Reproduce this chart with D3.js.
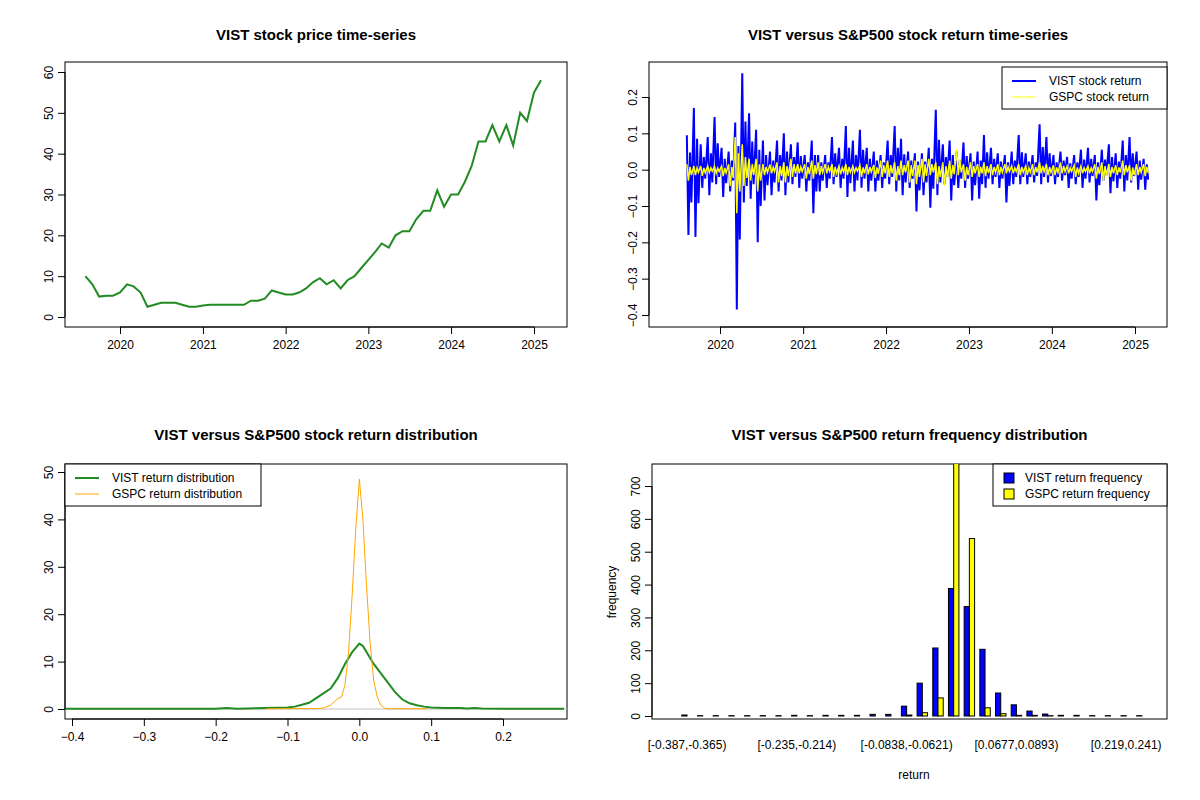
<!DOCTYPE html>
<html><head><meta charset="utf-8">
<script src="https://cdn.jsdelivr.net/npm/d3@7"></script>
<style>
body{margin:0;background:#fff;font-family:"Liberation Sans",Arial,sans-serif}
text{font-family:"Liberation Sans",Arial,sans-serif}
</style></head>
<body><svg id="c" width="1200" height="800"></svg>
<script>
// monthly closing price, Jul 2019 .. Feb 2025
const priceMonths = d3.timeMonths(new Date(2019,6,25), new Date(2025,1,26));
const priceValues = [10,8,5,5.2,5.2,6,
  8,7.5,6,2.5,3,3.5,3.5,3.5,3,2.5,2.5,2.8,
  3,3,3,3,3,3,4,4,4.5,6.5,6,5.5,
  5.5,6,7,8.5,9.5,8,9,7,9,10,12,14,
  16,18,17,20,21,21,24,26,26,31,27,30,
  30,33,37,43,43,47,43,47,42,50,48,55,
  58,52];

// monthly high / low of daily returns, Aug 2019 .. Feb 2025
const retMonths = d3.timeMonths(new Date(2019,7,1), new Date(2025,1,2));
const vistHi = [0.095,0.17,0.07,0.09,0.145,0.06,0.05,0.13,0.265,0.155,0.11,0.08,0.05,0.08,0.1,0.07,0.075,
  0.04,0.08,0.04,0.04,0.09,0.06,0.12,0.08,0.11,0.06,0.05,0.04,
  0.08,0.12,0.085,0.05,0.045,0.045,0.06,0.165,0.07,0.08,0.05,0.075,
  0.045,0.05,0.095,0.06,0.045,0.04,0.05,0.095,0.045,0.04,0.125,0.09,
  0.04,0.05,0.035,0.04,0.055,0.06,0.04,0.055,0.07,0.045,0.08,0.09,
  0.05,0.03];
const vistLo = [-0.18,-0.185,-0.05,-0.07,-0.04,-0.075,-0.06,-0.385,-0.09,-0.08,-0.2,-0.085,-0.07,-0.06,-0.07,-0.04,-0.05,
  -0.06,-0.12,-0.06,-0.05,-0.04,-0.05,-0.075,-0.06,-0.05,-0.06,-0.06,-0.05,
  -0.04,-0.06,-0.07,-0.05,-0.115,-0.07,-0.105,-0.07,-0.04,-0.085,-0.05,-0.05,
  -0.085,-0.08,-0.05,-0.04,-0.05,-0.09,-0.04,-0.04,-0.04,-0.035,-0.04,-0.035,
  -0.04,-0.03,-0.05,-0.04,-0.05,-0.035,-0.085,-0.03,-0.065,-0.05,-0.06,-0.035,
  -0.055,-0.055];
const gspcHi = [0.015,0.01,0.01,0.01,0.009,0.01,0.015,0.09,0.07,0.03,0.03,0.015,0.014,0.02,0.02,0.03,0.015,
  0.015,0.025,0.02,0.015,0.015,0.01,0.015,0.01,0.012,0.015,0.013,0.025,
  0.025,0.02,0.025,0.025,0.025,0.03,0.03,0.02,0.02,0.025,0.055,0.015,
  0.02,0.015,0.02,0.015,0.015,0.015,0.01,0.015,0.01,0.015,0.02,0.015,
  0.012,0.02,0.01,0.012,0.01,0.01,0.015,0.02,0.015,0.012,0.025,0.012,
  0.015,0.015];
const gspcLo = [-0.03,-0.015,-0.017,-0.008,-0.01,-0.018,-0.045,-0.12,-0.045,-0.03,-0.06,-0.015,-0.01,-0.035,-0.035,-0.02,-0.01,
  -0.025,-0.025,-0.015,-0.01,-0.02,-0.013,-0.015,-0.008,-0.02,-0.013,-0.023,-0.02,
  -0.02,-0.03,-0.015,-0.035,-0.04,-0.035,-0.015,-0.04,-0.045,-0.025,-0.015,-0.03,
  -0.02,-0.02,-0.018,-0.015,-0.015,-0.01,-0.01,-0.015,-0.015,-0.015,-0.01,-0.015,
  -0.015,-0.01,-0.01,-0.02,-0.01,-0.01,-0.025,-0.03,-0.02,-0.015,-0.015,-0.03,
  -0.015,-0.018];

// density estimates
const vistDensX = [-0.41,-0.2,-0.185,-0.17,-0.13,-0.1,-0.09,-0.08,-0.07,-0.06,-0.05,-0.04,-0.03,-0.02,-0.01,0,0.005,0.01,0.02,0.03,0.04,0.05,0.06,0.07,0.08,0.09,0.1,0.12,0.14,0.15,0.16,0.17,0.2,0.285];
const vistDensY = [0.05,0.05,0.2,0.05,0.2,0.3,0.5,0.9,1.3,2.3,3.3,4.3,6.5,9.5,12,13.8,13.3,12,9.5,7.5,5.5,3.5,2,1.2,0.8,0.5,0.3,0.2,0.2,0.1,0.2,0.1,0.05,0.05];
const gspcDensX = [-0.13,-0.06,-0.05,-0.04,-0.03,-0.025,-0.02,-0.015,-0.01,-0.005,0,0.005,0.01,0.015,0.02,0.025,0.03,0.035,0.04,0.095];
const gspcDensY = [0.05,0.1,0.2,0.8,2.2,2.5,5,12,24,38,48.5,40,26,14,6,2.5,0.8,0.2,0.05,0.05];

// histogram
const binBreaks = ["-0.387","-0.365","-0.343","-0.322","-0.3","-0.278","-0.257","-0.235","-0.214","-0.192","-0.17","-0.149","-0.127","-0.106","-0.0838","-0.0621","-0.0405","-0.0188","0.00285","0.0245","0.0461","0.0677","0.0893","0.111","0.133","0.154","0.176","0.198","0.219","0.241","0.263"];
const vistFreq = [3,1,1,1,1,1,1,2,1,2,2,2,5,5,30,100,207,388,333,203,70,34,15,6,2,2,1,1,1,1];
const gspcFreq = [0,0,0,0,0,0,0,0,0,0,0,0,0,0,3,10,55,800,540,25,7,2,2,1,0,0,0,0,0,0];

const svg = d3.select("#c");
const bold = "bold 15px 'Liberation Sans'";

function frame(x0,x1,y0,y1,title){
  svg.append("rect").attr("x",x0).attr("y",y0).attr("width",x1-x0).attr("height",y1-y0)
    .attr("fill","none").attr("stroke","#000");
  svg.append("text").attr("x",(x0+x1)/2).attr("y",40+(y0>300?400:0)).attr("text-anchor","middle")
    .style("font",bold).text(title);
}
function xAxis(scale,y,ticks,fmt){
  const g = svg.append("g").attr("transform",`translate(0,${y})`)
    .call(d3.axisBottom(scale).tickValues(ticks).tickFormat(fmt).tickSize(7).tickPadding(6));
  g.select(".domain").attr("d",`M${scale(ticks[0])},0H${scale(ticks[ticks.length-1])}`);
  g.selectAll("text").style("font-size","12px");
}
function yAxis(scale,x,ticks,fmt){
  const g = svg.append("g").attr("transform",`translate(${x},0)`)
    .call(d3.axisLeft(scale).tickValues(ticks).tickFormat(fmt).tickSize(7).tickPadding(4));
  g.select(".domain").attr("d",`M0,${scale(ticks[0])}V${scale(ticks[ticks.length-1])}`);
  g.selectAll("text").style("font-size","12px").attr("text-anchor","middle")
    .attr("x",0).attr("y",0).attr("dy",0).attr("transform","translate(-12,0) rotate(-90)");
}
function legend(x,y,w,items){
  svg.append("rect").attr("x",x).attr("y",y).attr("width",w).attr("height",42).attr("fill","#fff").attr("stroke","#000");
  items.forEach((it,i)=>{
    const cy=y+14+i*16;
    if(it.box) svg.append("rect").attr("x",x+11).attr("y",cy-5).attr("width",10).attr("height",10).attr("fill",it.color).attr("stroke","#000");
    else svg.append("line").attr("x1",x+10).attr("x2",x+34).attr("y1",cy).attr("y2",cy).attr("stroke",it.color).attr("stroke-width",it.w);
    svg.append("text").attr("x",x+(it.box?32:47)).attr("y",cy+4).style("font-size","12px").text(it.label);
  });
}
const years = [2020,2021,2022,2023,2024,2025].map(y=>new Date(y,0,1));
const yfmt = d3.timeFormat("%Y");

// panel 1
const x1 = d3.scaleTime().domain([new Date(2020,0,1),new Date(2025,0,1)]).range([120,534]);
const y1 = d3.scaleLinear().domain([0,60]).range([317,72]);
frame(65,567,62,327,"VIST stock price time-series");
svg.append("path").datum(priceMonths.map((d,i)=>[d,priceValues[i]]))
  .attr("d",d3.line().x(d=>x1(d[0])).y(d=>y1(d[1]))).attr("fill","none").attr("stroke","#228B22").attr("stroke-width",2);
xAxis(x1,327,years,yfmt);
yAxis(y1,65,[0,10,20,30,40,50,60],d3.format("d"));

// panel 2
const x2 = d3.scaleTime().domain([new Date(2020,0,1),new Date(2025,0,1)]).range([720,1135]);
const y2 = d3.scaleLinear().domain([-0.4,0.2]).range([315,97]);
frame(649,1167,62,327,"VIST versus S&P500 stock return time-series");
function zig(hi,lo){
  const pts=[];
  retMonths.forEach((m,i)=>{
    pts.push([d3.timeDay.offset(m,7),hi[i]]);
    pts.push([d3.timeDay.offset(m,14),lo[i]]);
    pts.push([d3.timeDay.offset(m,21),hi[i]/2]);
    pts.push([d3.timeDay.offset(m,27),lo[i]/2]);
  });
  return pts;
}
const line2 = d3.line().x(d=>x2(d[0])).y(d=>y2(d[1]));
svg.append("path").datum(zig(vistHi,vistLo)).attr("d",line2).attr("fill","none").attr("stroke","#0000ff").attr("stroke-width",2);
svg.append("path").datum(zig(gspcHi,gspcLo)).attr("d",line2).attr("fill","none").attr("stroke","#ffff00").attr("stroke-width",1.5);
xAxis(x2,327,years,yfmt);
yAxis(y2,649,[-0.4,-0.3,-0.2,-0.1,0,0.1,0.2],d3.format(".1f"));
legend(1002,67,165,[{label:"VIST stock return",color:"#0000ff",w:2},{label:"GSPC stock return",color:"#ffff00",w:1}]);

// panel 3
const x3 = d3.scaleLinear().domain([-0.4,0.2]).range([72,503]);
const y3 = d3.scaleLinear().domain([0,50]).range([709,472]);
frame(65,567,464,719,"VIST versus S&P500 stock return distribution");
svg.append("line").attr("x1",65).attr("x2",567).attr("y1",y3(0)).attr("y2",y3(0)).attr("stroke","#bebebe");
const dl = d3.line().x(d=>x3(d[0])).y(d=>y3(d[1]));
svg.append("path").datum(vistDensX.map((v,i)=>[v,vistDensY[i]])).attr("d",dl).attr("fill","none").attr("stroke","#228B22").attr("stroke-width",2);
svg.append("path").datum(gspcDensX.map((v,i)=>[v,gspcDensY[i]])).attr("d",dl).attr("fill","none").attr("stroke","#FFA500").attr("stroke-width",1);
xAxis(x3,719,[-0.4,-0.3,-0.2,-0.1,0,0.1,0.2],d3.format(".1f"));
yAxis(y3,65,[0,10,20,30,40,50],d3.format("d"));
legend(65,464,196,[{label:"VIST return distribution",color:"#228B22",w:2},{label:"GSPC return distribution",color:"#FFA500",w:1}]);

// panel 4
const x4 = d3.scaleLinear().domain([-4.7,93.8]).range([652,1167]);
const y4 = d3.scaleLinear().domain([0,700]).range([716,486]);
frame(652,1167,464,719,"VIST versus S&P500 return frequency distribution");
svg.append("clipPath").attr("id","cl").append("rect").attr("x",652).attr("y",464).attr("width",515).attr("height",255);
const bars = svg.append("g").attr("clip-path","url(#cl)");
vistFreq.forEach((v,i)=>{
  [[v,"#0000ff",0],[gspcFreq[i],"#ffff00",1]].forEach(([f,c,k])=>{
    bars.append("rect").attr("x",x4(3*i+1+k)).attr("y",y4(f)).attr("width",x4(1)-x4(0))
      .attr("height",Math.max(0,y4(0)-y4(f))).attr("fill",c).attr("stroke","#000").attr("stroke-width",1);
  });
});
vistFreq.forEach((v,i)=>{
  if(i%7) return;
  svg.append("text").attr("x",x4(3*i+2)).attr("y",749).attr("text-anchor","middle").style("font-size","12px")
    .text(`[${binBreaks[i]},${binBreaks[i+1]})`);
});
yAxis(y4,652,[0,100,200,300,400,500,600,700],d3.format("d"));
svg.append("text").attr("x",914).attr("y",779).attr("text-anchor","middle").style("font-size","12px").text("return");
svg.append("text").attr("transform","translate(616,592) rotate(-90)").attr("text-anchor","middle").style("font-size","12px").text("frequency");
legend(993,464,174,[{label:"VIST return frequency",color:"#0000ff",box:1},{label:"GSPC return frequency",color:"#ffff00",box:1}]);
</script></body></html>
